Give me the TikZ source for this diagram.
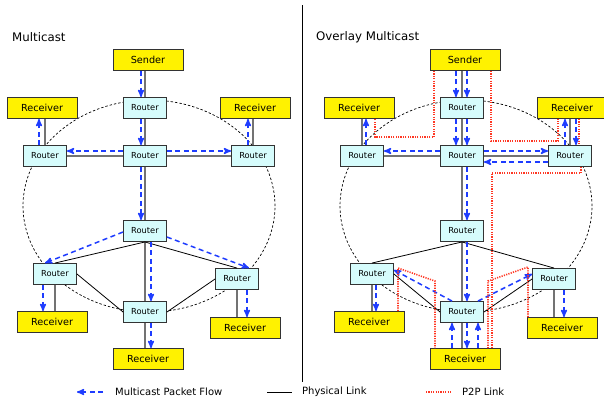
\documentclass[tikz,border=0pt]{standalone}
\usepackage{fontspec}
\setmainfont{DejaVu Sans}
\usetikzlibrary{arrows,calc}
\definecolor{flowblue}{RGB}{30,60,255}
\definecolor{ptpred}{RGB}{255,55,35}
\definecolor{routerfill}{RGB}{214,252,252}
\definecolor{linkgray}{RGB}{115,115,115}

\begin{document}
\begin{tikzpicture}[x=1pt,y=-1pt,>=stealth',
    router/.style={draw=black!80,line width=0.9pt,fill=routerfill,minimum width=43pt,
        minimum height=21pt,inner sep=0pt,font=\fontsize{8.3}{9}\selectfont},
    host/.style={draw=black!80,line width=0.9pt,fill=yellow,minimum width=70pt,
        minimum height=21pt,inner sep=0pt,font=\fontsize{9.7}{11}\selectfont},
    phys/.style={draw=linkgray,line width=1.5pt},
    wire/.style={draw=black,line width=0.8pt},
    ring/.style={draw=black,line width=0.7pt,dash pattern=on 2.4pt off 2pt},
    flow/.style={->,draw=flowblue,line width=1.5pt,dash pattern=on 5pt off 3.5pt},
    ptp/.style={draw=ptpred,line width=1.6pt,dash pattern=on 1.2pt off 1.2pt},
    title/.style={anchor=west,inner sep=0pt,font=\fontsize{11.8}{13}\selectfont},
    legend/.style={anchor=west,inner sep=0pt,font=\fontsize{10}{12}\selectfont}]

    \useasboundingbox (0,0) rectangle (604,400);

    \foreach \p/\dx in {m/0,o/317} {
      \begin{scope}[xshift=\dx pt]
        \coordinate (\p ctr) at (149,206);
        \draw[ring] (\p ctr) ellipse [x radius=126pt, y radius=106pt];

        \node[host] (\p snd) at (148,60) {Sender};
        \node[router] (\p rt) at (145,108) {Router};
        \node[host] (\p recl) at (42,108) {Receiver};
        \node[host] (\p recr) at (255,108) {Receiver};
        \node[router] (\p rl) at (45,156) {Router};
        \node[router] (\p rm) at (145,156) {Router};
        \node[router] (\p rr) at (253,156) {Router};
        \node[router] (\p rc) at (145,231) {Router};
        \node[router] (\p rll) at (55,274) {Router};
        \node[router] (\p rlr) at (237,279) {Router};
        \node[router] (\p rb) at (145,312) {Router};
        \node[host] (\p recll) at (52,322) {Receiver};
        \node[host] (\p reclr) at (245,328) {Receiver};
        \node[host] (\p recb) at (148,359) {Receiver};

        \draw[phys] (\p rt.north |- \p snd.south) -- (\p rt.north);
        \draw[phys] (\p rt) -- (\p rm);
        \draw[phys] (\p rm) -- (\p rc);
        \draw[phys] (\p rc) -- (\p rb);
        \draw[phys] (\p rb.south) -- (\p rb.south |- \p recb.north);
        \draw[phys] (\p rl) -- (\p rm);
        \draw[phys] (\p rm) -- (\p rr);
        \draw[phys] (\p rl.north) -- (\p rl.north |- \p recl.south);
        \draw[phys] (\p rr.north) -- (\p rr.north |- \p recr.south);
        \draw[phys] (\p rll.south) -- (\p rll.south |- \p recll.north);
        \draw[phys] (\p rlr.south) -- (\p rlr.south |- \p reclr.north);
        \draw[wire] (\p rc.south) -- (\p rll.north);
        \draw[wire] (\p rc.south) -- (\p rlr.north);
        \draw[wire] (\p rll.east) -- (\p rb.west);
        \draw[wire] (\p rlr.west) -- (\p rb.east);
      \end{scope}
    }

    \draw[flow] ($(mrt.north |- msnd.south)+(-4,0)$) -- ($(mrt.north)+(-4,0)$);
    \draw[flow] ($(mrt.south)+(-4,0)$) -- ($(mrm.north)+(-4,0)$);
    \draw[flow] ($(mrm.west)+(0,-5)$) -- ($(mrl.east)+(0,-5)$);
    \draw[flow] ($(mrm.east)+(0,-5)$) -- ($(mrr.west)+(0,-5)$);
    \draw[flow] ($(mrl.north)+(-6,0)$) -- ($(mrl.north |- mrecl.south)+(-6,0)$);
    \draw[flow] ($(mrr.north)+(-5,0)$) -- ($(mrr.north |- mrecr.south)+(-5,0)$);
    \draw[flow] ($(mrm.south)+(-4,0)$) -- ($(mrc.north)+(-4,0)$);
    \draw[flow] ($(mrc.west)+(0,1)$) -- ($(mrll.north)+(-10,0)$);
    \draw[flow] ($(mrc.east)+(0,6)$) -- ($(mrlr.north)+(12,0)$);
    \draw[flow] ($(mrc.south)+(6,0)$) -- ($(mrb.north)+(6,0)$);
    \draw[flow] ($(mrll.south)+(-12,0)$) -- ($(mrll.south |- mrecll.north)+(-12,0)$);
    \draw[flow] ($(mrlr.south)+(10,0)$) -- ($(mrlr.south |- mreclr.north)+(10,0)$);
    \draw[flow] ($(mrb.south)+(6,0)$) -- ($(mrb.south |- mrecb.north)+(6,0)$);

    \foreach \dx in {-6,5} {
      \draw[flow] ($(ort.north |- osnd.south)+(\dx,0)$) -- ($(ort.north)+(\dx,0)$);
      \draw[flow] ($(ort.south)+(\dx,0)$) -- ($(orm.north)+(\dx,0)$);
    }
    \draw[flow] ($(orm.west)+(0,-5)$) -- ($(orl.east)+(0,-5)$);
    \draw[flow] ($(orm.east)+(0,-5)$) -- ($(orr.west)+(0,-5)$);
    \draw[flow] ($(orr.west)+(0,6)$) -- ($(orm.east)+(0,6)$);
    \draw[flow] ($(orl.north)+(4,0)$) -- ($(orl.north |- orecl.south)+(4,0)$);
    \draw[flow] ($(orr.north)+(-5,0)$) -- ($(orr.north |- orecr.south)+(-5,0)$);
    \draw[flow] ($(orr.north |- orecr.south)+(6,0)$) -- ($(orr.north)+(6,0)$);
    \draw[flow] ($(orm.south)+(5,0)$) -- ($(orc.north)+(5,0)$);
    \draw[flow] ($(orc.south)+(5,0)$) -- ($(orb.north)+(5,0)$);
    \draw[flow] ($(orll.south)+(4,0)$) -- ($(orll.south |- orecll.north)+(4,0)$);
    \draw[flow] ($(orb.north)+(-10,0)$) -- ($(orll.east)+(0,-4)$);
    \draw[flow] ($(orb.north)+(16,0)$) -- ($(orlr.west)+(0,-5)$);
    \draw[flow] ($(orlr.south)+(10,0)$) -- ($(orlr.south |- oreclr.north)+(10,0)$);
    \draw[flow] ($(orb.south)+(5,0)$) -- ($(orb.south |- orecb.north)+(5,0)$);
    \foreach \dx in {-10,16}
      \draw[flow] ($(orb.south |- orecb.north)+(\dx,0)$) -- ($(orb.south)+(\dx,0)$);

    \draw[ptp] ($(osnd.south)+(-31,0)$) |- ($(orecl.south)+(16,18)$) -- ($(orecl.south)+(16,0)$);
    \draw[ptp] ($(osnd.south)+(26,0)$) |- ($(orecr.south)+(-14,22)$) -- ($(orecr.south)+(-14,0)$);
    \draw[ptp] ($(orecr.south)+(7,0)$) -- ($(orr.north)+(9,0)$);
    \draw[ptp] ($(orr.south)+(11,0)$) -- ($(orr.south)+(11,6)$) -| ($(orecb.north)+(27,0)$);
    \draw[ptp] ($(orecll.north)+(29,0)$) -- ($(orecll.north)+(29,-43)$)
        -- ($(orecb.north)+(-30,-67)$) -- ($(orecb.north)+(-30,0)$);
    \draw[ptp] ($(oreclr.north)+(-34,0)$) -- ($(oreclr.north)+(-34,-50)$)
        -- ($(orecb.north)+(23,-67)$) -- ($(orecb.north)+(23,0)$);

    \coordinate (septop) at (302,5);
    \coordinate (sepbot) at (302,382);
    \draw[line width=0.8pt] (septop) -- (sepbot);

    \node[title] (ttlm) at (12,37) {Multicast};
    \node[title] (ttlo) at (316,37) {Overlay Multicast};

    \coordinate (lgfa) at (103,392);
    \coordinate (lgfb) at (77,392);
    \draw[flow] (lgfa) -- (lgfb);
    \node[legend] (lgft) at (115,392) {Multicast Packet Flow};
    \coordinate (lgwa) at (267,392);
    \coordinate (lgwb) at (292,392);
    \draw[wire] (lgwa) -- (lgwb);
    \node[legend] (lgwt) at (302,392) {Physical Link};
    \coordinate (lgpa) at (426,392);
    \coordinate (lgpb) at (452,392);
    \draw[ptp] (lgpa) -- (lgpb);
    \node[legend] (lgpt) at (462,392) {P2P Link};

\end{tikzpicture}
\end{document}
